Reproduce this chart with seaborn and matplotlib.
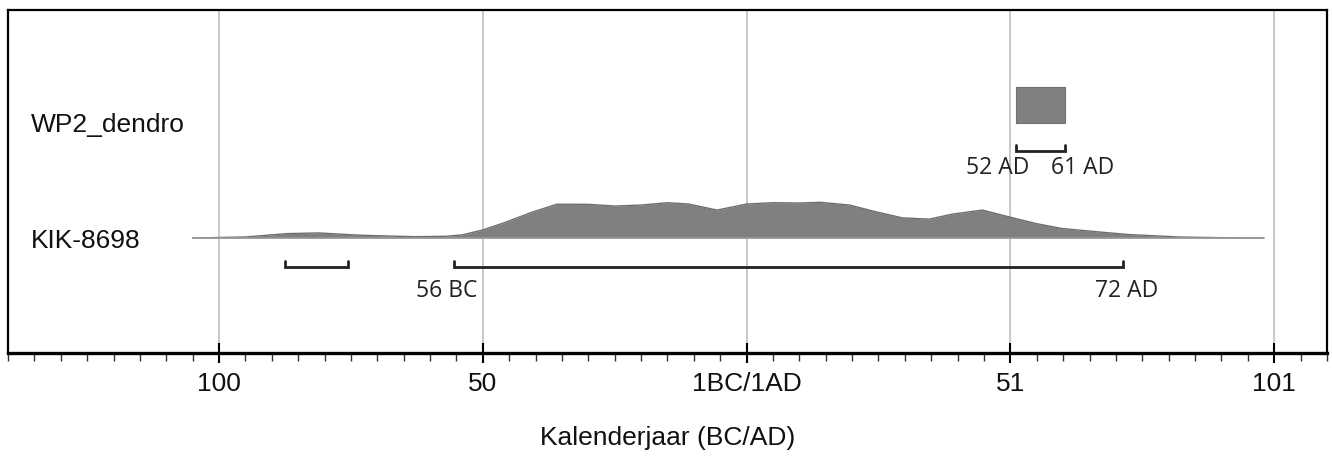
import numpy as np
import pandas as pd
import matplotlib
matplotlib.use("Agg")
import matplotlib.pyplot as plt
import matplotlib.transforms as mtransforms
from matplotlib.ticker import MultipleLocator, FixedLocator
import seaborn as sns

# calendar position: 1BC/1AD boundary = 0, BC negative
kik_years = [-105, -95, -87, -81, -73, -63, -57, -54, -50, -46, -41, -36, -30, -25,
             -20, -15, -11, -5.6, 0, 5, 10, 14, 19.5, 24.5, 29.5, 34.6, 39, 44.7,
             49.7, 54.8, 59.8, 66.8, 72.5, 82, 90, 98]
kik_prob = [0, 1, 4.4, 5, 2.7, 1.3, 1.7, 3, 8, 15, 25, 33.5, 33.4, 31.7,
            32.7, 35, 33.7, 27.7, 33.7, 35, 34.7, 35.4, 32.7, 26, 20, 18.7, 23.7, 27.7,
            21, 14.4, 9.4, 6, 3.4, 1, 0.3, 0]

kik_ranges = [(-87.5, -75.5), (-55.5, 71.3)]
kik_range_labels = [("56 BC", -56.8), ("72 AD", 72.0)]

dendro_start, dendro_end = 51.0, 60.3
dendro_labels = [("52 AD", 47.5), ("61 AD", 63.6)]

samples = ["KIK-8698", "WP2_dendro"]
tick_pos = [-100, -50, 0, 50, 100]
tick_labels = ["100", "50", "1BC/1AD", "51", "101"]

sns.set_theme(style="white")
plt.rcParams["font.family"] = ["Liberation Sans", "DejaVu Sans"]

fig = plt.figure(figsize=(13.32, 4.58), dpi=100)
ax = fig.add_axes([0.006, 0.229, 0.9902, 0.749])

# probability distribution of the radiocarbon date
df = pd.DataFrame({"year": kik_years, "prob": kik_prob})
df["h"] = df["prob"] / max(kik_prob) * 0.31
ax.fill_between(df["year"], 0, df["h"], color="#808080", linewidth=0, zorder=3)
sns.lineplot(data=df, x="year", y="h", color="#6e6e6e", linewidth=1.0, ax=ax, zorder=4)
ax.plot([kik_years[0], kik_years[-1]], [0, 0], color="#9a9a9a", linewidth=1.2, zorder=4)

# dendro date as a block
ax.fill_between([dendro_start, dendro_end], 1.0, 1.31, color="#808080",
                edgecolor="#707070", linewidth=0.8, zorder=3)


def bracket(x0, x1, y, tick=0.05):
    ax.plot([x0, x0, x1, x1], [y + tick, y, y, y + tick], color="#222222",
            linewidth=2.0, solid_joinstyle="miter", zorder=5)


for x0, x1 in kik_ranges:
    bracket(x0, x1, -0.25)
bracket(dendro_start, dendro_end, 0.757)

for txt, x in kik_range_labels:
    ax.text(x, -0.46, txt, ha="center", va="center", fontsize=16.5,
            family=["Open Sans", "DejaVu Sans"], color="#222222")
for txt, x in dendro_labels:
    ax.text(x, 0.61, txt, ha="center", va="center", fontsize=16.5,
            family=["Open Sans", "DejaVu Sans"], color="#222222")

# sample names on the left
trans = mtransforms.blended_transform_factory(ax.transAxes, ax.transData)
for i, name in enumerate(samples):
    ax.text(0.0172, i, name, transform=trans, ha="left", va="center_baseline",
            fontsize=19, color="#111111")

ax.set_xlim(-140, 110)
ax.set_ylim(-1, 1.98)
ax.set_yticks([])
ax.xaxis.set_major_locator(FixedLocator(tick_pos))
ax.set_xticklabels(tick_labels, fontsize=19, color="#111111")
ax.xaxis.set_minor_locator(MultipleLocator(5))
ax.tick_params(axis="x", which="major", direction="inout", length=15, width=1.5,
               color="black", pad=6, bottom=True)
ax.tick_params(axis="x", which="minor", direction="out", length=6, width=1.0,
               color="#333333", bottom=True)
ax.grid(axis="x", which="major", color="#c4c4c4", linewidth=1.3, zorder=0)
ax.set_axisbelow(True)
ax.set_xlabel("Kalenderjaar (BC/AD)", fontsize=19, color="#111111", labelpad=22)
ax.set_ylabel("")
for sp in ax.spines.values():
    sp.set_color("black")
    sp.set_linewidth(1.6)
ax.spines["bottom"].set_linewidth(2.4)

fig.savefig("out.png", dpi=100)
